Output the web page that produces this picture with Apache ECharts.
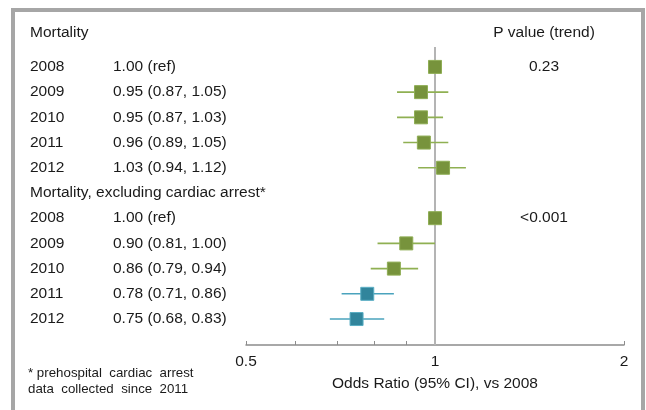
<!DOCTYPE html>
<html>
<head>
<meta charset="utf-8">
<script src="https://cdn.jsdelivr.net/npm/echarts@6/dist/echarts.min.js"></script>
<style>
  html, body { margin: 0; padding: 0; background: #fff; }
  #chart { width: 646px; height: 410px; }
</style>
</head>
<body>
<div id="chart"></div>
<script>
// data
var years = ['2008', '2009', '2010', '2011', '2012'];
var mortOR = [1.00, 0.95, 0.95, 0.96, 1.03];
var mortLo = [null, 0.87, 0.87, 0.89, 0.94];
var mortHi = [null, 1.05, 1.03, 1.05, 1.12];
var exclOR = [1.00, 0.90, 0.86, 0.78, 0.75];
var exclLo = [null, 0.81, 0.79, 0.71, 0.68];
var exclHi = [null, 1.00, 0.94, 0.86, 0.83];
var groupNames = ['Mortality', 'Mortality, excluding cardiac arrest*'];
var pTrend = ['0.23', '<0.001'];
var xTicks = [0.5, 0.6, 0.7, 0.8, 0.9, 1, 2];
var xLabels = [0.5, 1, 2];

var font = '"Liberation Sans", Arial, sans-serif';
var green = '#77933c', blue = '#31859c';

// rows: group 1 -> 0..4, group 2 heading -> 5, group 2 -> 6..10
var rowText = {};
var points = [], whiskers = [];
function fmt(or, lo, hi) {
    if (lo == null) return or.toFixed(2) + ' (ref)';
    return or.toFixed(2) + ' (' + lo.toFixed(2) + ', ' + hi.toFixed(2) + ')';
}
years.forEach(function (y, i) {
    rowText[i] = '{a|' + y + '}{b|' + fmt(mortOR[i], mortLo[i], mortHi[i]) + '}';
    points.push({ value: [Math.log2(mortOR[i]), i], blue: false });
    if (mortLo[i] != null) whiskers.push([Math.log2(mortLo[i]), Math.log2(mortHi[i]), i, 0]);
});
rowText[5] = '{h|' + groupNames[1] + '}';
years.forEach(function (y, i) {
    var r = i + 6;
    // prehospital cardiac arrest data collected since 2011
    var isBlue = +y >= 2011;
    rowText[r] = '{a|' + y + '}{b|' + fmt(exclOR[i], exclLo[i], exclHi[i]) + '}';
    points.push({ value: [Math.log2(exclOR[i]), r], blue: isBlue });
    if (exclLo[i] != null) whiskers.push([Math.log2(exclLo[i]), Math.log2(exclHi[i]), r, isBlue ? 1 : 0]);
});
var pRows = { 0: pTrend[0], 6: pTrend[1] };

var myChart = echarts.init(document.getElementById('chart'));

var option = {
    animation: false,
    textStyle: { fontFamily: font },
    grid: { left: 246, right: 22, top: 47, bottom: 65 },
    xAxis: {
        type: 'value',
        min: -1,
        max: 1,
        name: 'Odds Ratio (95% CI), vs 2008',
        nameLocation: 'middle',
        nameGap: 31,
        nameTextStyle: { fontSize: 15.5, color: '#1a1a1a', fontFamily: font },
        splitLine: { show: false },
        axisLine: { onZero: false, lineStyle: { color: '#8c8c8c', width: 1.5 } },
        axisTick: {
            inside: true, length: 4,
            lineStyle: { color: '#8c8c8c' },
            customValues: xTicks.map(function (v) { return Math.log2(v); })
        },
        axisLabel: {
            fontSize: 15.5, color: '#1a1a1a', margin: 9,
            customValues: xLabels.map(function (v) { return Math.log2(v); }),
            formatter: function (v) { return String(Math.round(Math.pow(2, v) * 10) / 10); }
        }
    },
    yAxis: [{
        type: 'value',
        inverse: true,
        min: -0.79,
        max: 11.03,
        offset: 216,
        name: groupNames[0],
        nameLocation: 'start',
        nameGap: 6,
        nameTextStyle: { fontSize: 15.5, color: '#1a1a1a', align: 'left', fontFamily: font },
        axisLine: { show: false, onZero: false },
        axisTick: { show: false },
        splitLine: { show: false },
        axisLabel: {
            margin: 0, align: 'left',
            customValues: Object.keys(rowText).map(Number),
            formatter: function (v) { return rowText[v] || ''; },
            rich: {
                a: { fontSize: 15.5, color: '#1a1a1a', width: 83, fontFamily: font },
                b: { fontSize: 15.5, color: '#1a1a1a', fontFamily: font },
                h: { fontSize: 15.5, color: '#1a1a1a', fontFamily: font }
            }
        }
    }, {
        type: 'value',
        inverse: true,
        min: -0.79,
        max: 11.03,
        position: 'right',
        offset: -80,
        name: 'P value (trend)',
        nameLocation: 'start',
        nameGap: 6,
        nameTextStyle: { fontSize: 15.5, color: '#1a1a1a', align: 'center', fontFamily: font },
        axisLine: { show: false, onZero: false },
        axisTick: { show: false },
        splitLine: { show: false },
        axisLabel: {
            margin: 0, align: 'center',
            fontSize: 15.5, color: '#1a1a1a',
            customValues: Object.keys(pRows).map(Number),
            formatter: function (v) { return pRows[v] || ''; }
        }
    }],
    graphic: [{
        type: 'rect',
        shape: { x: 13, y: 10, width: 630, height: 440 },
        style: { fill: 'none', stroke: '#a6a6a6', lineWidth: 4 },
        silent: true
    }, {
        type: 'text',
        left: 28, top: 365,
        style: {
            text: '* prehospital  cardiac  arrest\ndata  collected  since  2011',
            font: '13.3px ' + font,
            fill: '#1a1a1a',
            lineHeight: 16
        }
    }],
    series: [{
        type: 'custom',
        data: whiskers,
        z: 2,
        renderItem: function (params, api) {
            var p1 = api.coord([api.value(0), api.value(2)]);
            var p2 = api.coord([api.value(1), api.value(2)]);
            return {
                type: 'line',
                shape: { x1: p1[0], y1: p1[1], x2: p2[0], y2: p2[1] },
                style: { stroke: api.value(3) ? '#4aa3bd' : '#8fb052', lineWidth: 1.6 }
            };
        },
        // reference line at OR = 1, kept under the squares
        markLine: {
            z: 1,
            silent: true,
            symbol: 'none',
            label: { show: false },
            lineStyle: { color: '#b4b4b4', width: 2, type: 'solid' },
            data: [{ xAxis: 0 }]
        }
    }, {
        type: 'scatter',
        z: 10,
        symbol: 'rect',
        symbolSize: 13,
        data: points.map(function (p) {
            return {
                value: p.value,
                itemStyle: {
                    color: p.blue ? blue : green,
                    borderColor: p.blue ? '#5aaec4' : '#8fae55',
                    borderWidth: 1,
                    opacity: 1
                }
            };
        })
    }]
};

myChart.setOption(option);
</script>
</body>
</html>
